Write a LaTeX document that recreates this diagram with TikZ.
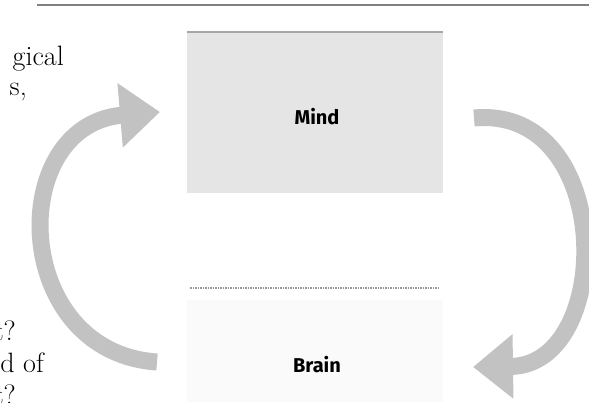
\documentclass[tikz,border=0pt]{standalone}
\usepackage{fontspec}
\newfontfamily\labelfont{Fira Sans}
\usetikzlibrary{positioning,arrows.meta}
\tikzset{
mindbox/.style={
fill=black!10,
minimum width=256pt,minimum height=161pt,inner sep=0pt},
brainbox/.style={
fill=black!2,
minimum width=256pt,minimum height=102pt,inner sep=0pt},
boxtext/.style={font={\labelfont\bfseries\fontsize{20pt}{24pt}\selectfont},inner sep=0pt},
bodytext/.style={font={\fontsize{28pt}{32pt}\selectfont},anchor=base east,inner sep=0pt},
cycle/.style={line width=17pt,draw=black!24,-{Triangle[length=40pt,width=62pt]}},
rule/.style={draw=black!50,line width=2pt}
}

\begin{document}
\begin{tikzpicture}[x=1pt,y=-1pt]
  \useasboundingbox (0,0) rectangle (589,402);
  % rule at the top of the page
  \coordinate (rulel) at (37,4.5);
  \coordinate (ruler) at (589,4.5);
  \draw[rule] (rulel) -- (ruler);
  % the two levels
  \node[mindbox] (mind) at (315,112.5) {};
  \draw[draw=black!35,line width=2pt] (mind.north west) -- (mind.north east);
  \node[boxtext] (mindtext) at (317,117) {Mind};
  \node[brainbox] (brain) at (315,351) {};
  \node[boxtext] (braintext) at (317,365) {Brain};
  \coordinate (divl) at (190,288);
  \coordinate (divr) at (440,288);
  \draw[draw=black!40,line width=1.5pt,densely dotted] (divl) -- (divr);
  % arrows going round
  \coordinate (rtail) at (474,118);
  \coordinate (rtip) at (473,367);
  \draw[cycle] (rtail) .. controls (615,105) and (615,365) .. (rtip);
  \coordinate (ltail) at (157,362);
  \coordinate (ltip) at (160,112);
  \draw[cycle] (ltail) .. controls (10,352) and (5,125) .. (ltip);
  % cut-off text of the page
  \node[bodytext] (t1) at (64,65) {gical};
  \node[bodytext] (t2) at (27,95) {s,};
  \node[bodytext] (t3) at (16,340) {t?};
  \node[bodytext] (t4) at (44,372) {d of};
  \node[bodytext] (t5) at (16,404) {t?};
\end{tikzpicture}
\end{document}
